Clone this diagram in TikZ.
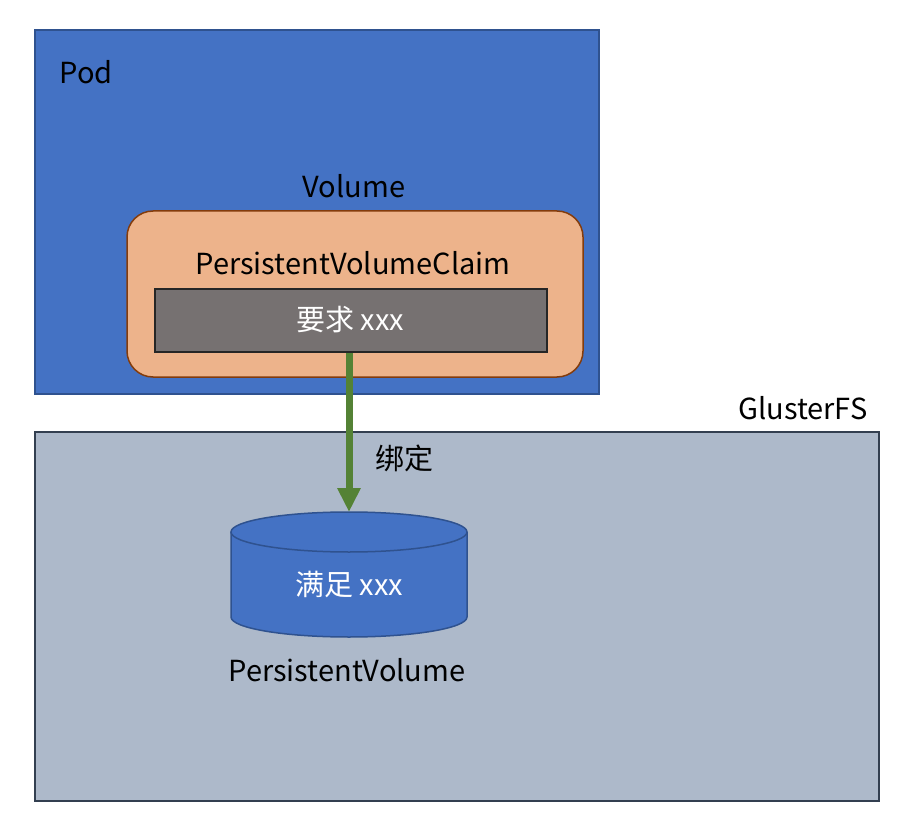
\documentclass[tikz,border=0pt]{standalone}
\usepackage{fontspec}
\setmainfont{Noto Sans CJK SC}
\usepackage{xcolor}
\usepackage{tikz}
\usetikzlibrary{arrows.meta,positioning}
\definecolor{podblue}{HTML}{4472C4}
\definecolor{podedge}{HTML}{2F528F}
\definecolor{glgray}{HTML}{ADB9CA}
\definecolor{gledge}{HTML}{333F50}
\definecolor{pvcorange}{HTML}{EDB38B}
\definecolor{pvcedge}{HTML}{843C0C}
\definecolor{reqgray}{HTML}{767171}
\definecolor{bindgreen}{HTML}{548235}
\tikzset{
	lbl/.style={inner sep=0pt,font=\fontsize{29}{34}\selectfont},
	box/.style={draw,line width=1.5pt,inner sep=0pt}
}

\begin{document}
\begin{tikzpicture}[x=1pt,y=-1pt]
	\useasboundingbox (0,0) rectangle (914,832);
	% Pod and GlusterFS
	\node[box,fill=podblue,draw=podedge,minimum width=564pt,minimum height=364pt] (pod) at (317,212) {};
	\node[lbl] (podlbl) at (86,72) {Pod};
	\node[box,fill=glgray,draw=gledge,minimum width=844pt,minimum height=369pt] (gluster) at (457,616.5) {};
	\node[lbl] (gllbl) at (803,408) {GlusterFS};
	% volume claim
	\node[lbl] (vol) at (354,186) {Volume};
	\node[box,fill=pvcorange,draw=pvcedge,rounded corners=26pt,minimum width=456pt,minimum height=166pt] (pvc) at (355,294) {};
	\node[lbl] (pvclbl) at (353,263) {PersistentVolumeClaim};
	\node[box,fill=reqgray,draw=black!85,line width=2pt,minimum width=392pt,minimum height=63pt] (req) at (351,320.5) {};
	\node[lbl,text=white] (reqlbl) at (350,320) {要求 xxx};
	% persistent volume
	\fill[podblue] (231,532) -- (231,617) arc (180:360:118pt and 20pt) -- (467,532) arc (0:180:118pt and 20pt) -- cycle;
	\draw[podedge,line width=1.5pt] (231,532) -- (231,617) arc (180:360:118pt and 20pt) -- (467,532);
	\draw[podedge,line width=1.5pt] (349,532) ellipse (118pt and 20pt);
	\coordinate (pvtop) at (349,512);
	\node[lbl,text=white] (pv) at (349,584) {满足 xxx};
	\node[lbl] (pvlbl) at (347,670) {PersistentVolume};
	% binding
	\draw[bindgreen,line width=7pt,-{Triangle[width=22pt,length=24pt]}] (req.south -| pvtop) -- (pvtop) node[lbl,text=black,pos=0.66,right=23pt] (bind) {绑定};
\end{tikzpicture}
\end{document}
